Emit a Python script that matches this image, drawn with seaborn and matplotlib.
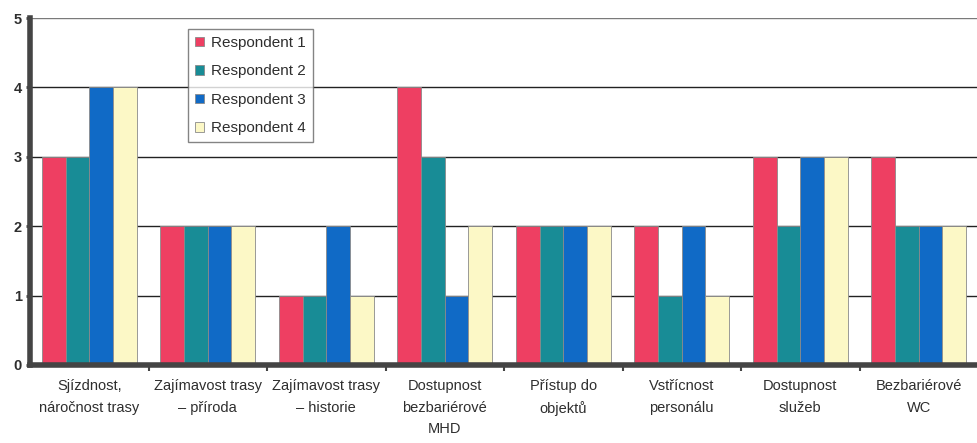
import matplotlib
matplotlib.use("Agg")
import matplotlib.pyplot as plt
import seaborn as sns
import pandas as pd
import numpy as np

categories = [
    "Sjízdnost,\nnáročnost trasy",
    "Zajímavost trasy\n– příroda",
    "Zajímavost trasy\n– historie",
    "Dostupnost\nbezbariérové\nMHD",
    "Přístup do\nobjektů",
    "Vstřícnost\npersonálu",
    "Dostupnost\nslužeb",
    "Bezbariérové\nWC",
]
respondent_1 = [3, 2, 1, 4, 2, 2, 3, 3]
respondent_2 = [3, 2, 1, 3, 2, 1, 2, 2]
respondent_3 = [4, 2, 2, 1, 2, 2, 3, 2]
respondent_4 = [4, 2, 1, 2, 2, 1, 3, 2]
series_names = ["Respondent 1", "Respondent 2", "Respondent 3", "Respondent 4"]
y_ticks = [0, 1, 2, 3, 4, 5]

colors = ["#ee3f62", "#188c96", "#106ac6", "#fcf8c6"]

rows = []
for name, vals in zip(series_names, [respondent_1, respondent_2, respondent_3, respondent_4]):
    for cat, v in zip(categories, vals):
        rows.append({"kategorie": cat, "respondent": name, "hodnota": v})
df = pd.DataFrame(rows)

sns.set_theme(style="white")
plt.rcParams["font.family"] = ["Liberation Sans", "DejaVu Sans"]
text_color = "#2e2e2e"

fig = plt.figure(figsize=(9.77, 4.43), dpi=100)
ax = fig.add_axes([30 / 977, 78 / 443, 948 / 977, 347 / 443])

# horizontal reference lines behind the bars
for y in y_ticks[1:]:
    ax.axhline(y, color="#7a7a7a" if y == 5 else "#222222", lw=1.0, zorder=0)

sns.barplot(
    data=df, x="kategorie", y="hodnota", hue="respondent",
    order=categories, hue_order=series_names, palette=colors,
    width=0.8, edgecolor="#8a8a8a", linewidth=0.6, saturation=1,
    ax=ax, zorder=2,
)

ax.set_xlim(-0.5, 7.5)
ax.set_ylim(0, 5)
ax.set_xlabel("")
ax.set_ylabel("")
ax.set_yticks(y_ticks)
ax.set_yticklabels([str(t) for t in y_ticks], fontsize=10.5, color=text_color, fontweight="bold")
ax.tick_params(axis="y", length=3, width=2, color="#444444", pad=3, left=True)
ax.set_xticks(range(len(categories)))
ax.set_xticklabels(categories, fontsize=10.5, color=text_color, linespacing=1.7)
ax.tick_params(axis="x", length=0, pad=10)
ax.set_xticks(np.arange(0.5, len(categories) - 0.5, 1), minor=True)
ax.tick_params(axis="x", which="minor", length=4, width=1.5, color="#444444", bottom=True, direction="out")

for side in ["top", "right"]:
    ax.spines[side].set_visible(False)
ax.spines["left"].set_color("#444444")
ax.spines["left"].set_linewidth(4)
ax.spines["bottom"].set_color("#444444")
ax.spines["bottom"].set_linewidth(4)
ax.spines["left"].set_zorder(5)
ax.spines["bottom"].set_zorder(5)

handles, labels = ax.get_legend_handles_labels()
leg = ax.legend(
    handles, labels, loc="upper left",
    bbox_to_anchor=(188 / 977, 1 - 29 / 443), bbox_transform=fig.transFigure,
    frameon=True, fancybox=False, edgecolor="#666666",
    fontsize=11, handlelength=0.6, handleheight=0.6, handletextpad=0.45,
    labelspacing=0.95, borderpad=0.45, borderaxespad=0, labelcolor=text_color,
)
leg.get_frame().set_linewidth(1.0)

fig.savefig("out.png", dpi=100, facecolor="white")
